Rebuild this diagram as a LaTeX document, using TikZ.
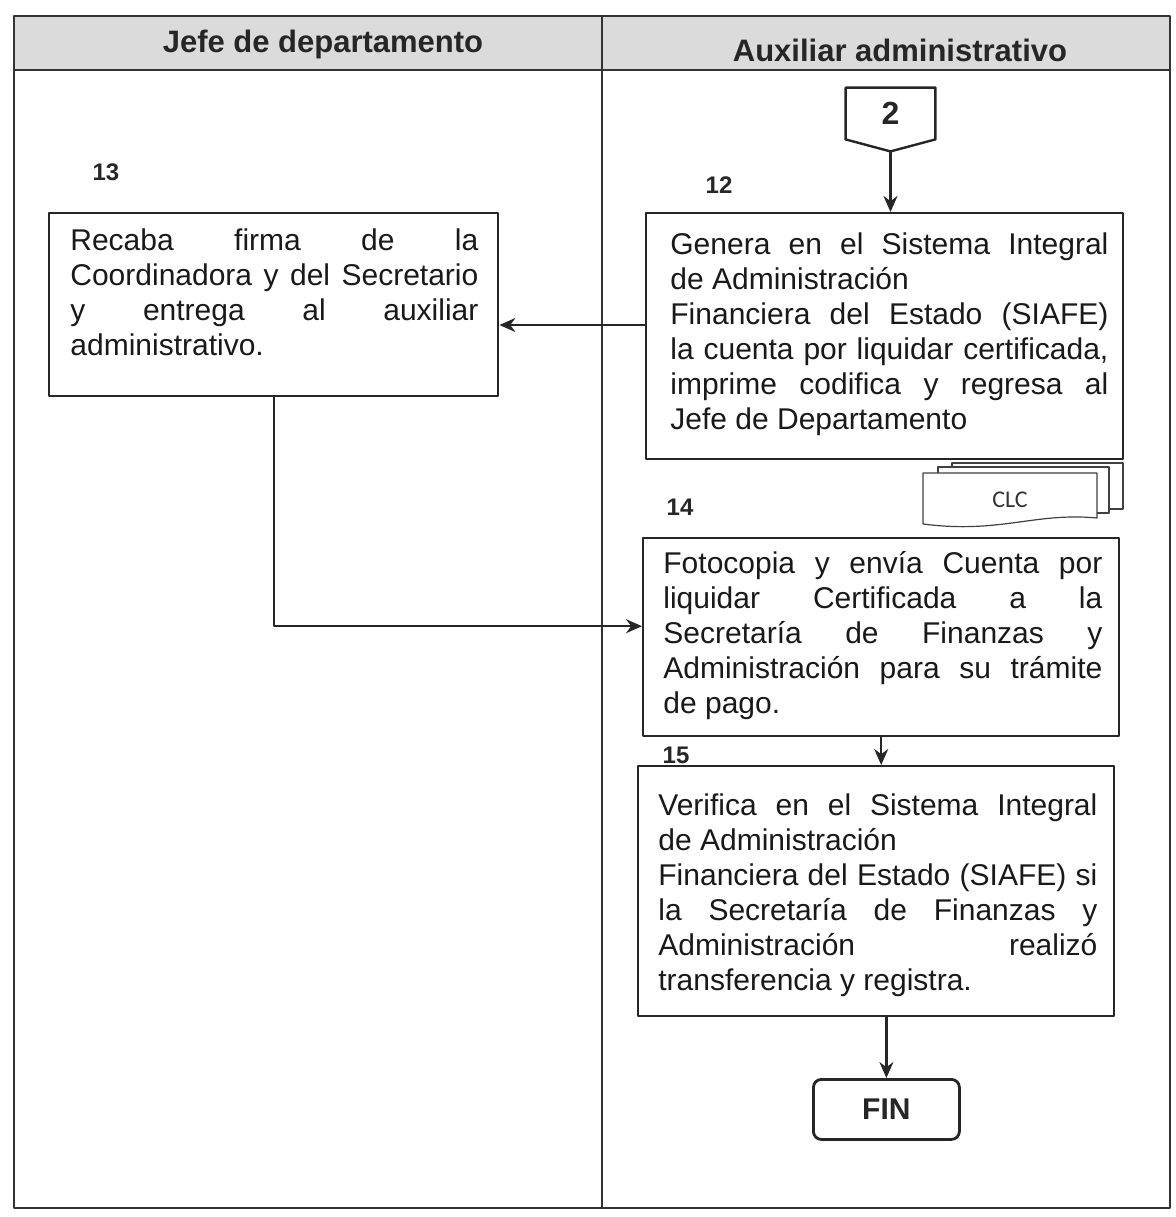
\documentclass[tikz,border=0pt]{standalone}
\usepackage{fontspec}
\setmainfont{Liberation Sans}
\newfontfamily\clcfont{Carlito}
\usetikzlibrary{arrows.meta,calc}
\tolerance=9999
\hyphenpenalty=10000
\begin{document}
\begin{tikzpicture}[x=0.5pt,y=-0.5pt,
  line join=round,
  frame/.style={draw=black!80, line width=1pt},
  stepbox/.style={draw=black!85, line width=1.2pt, fill=white, inner sep=0pt, anchor=north west},
  boxtext/.style={inner sep=0pt, anchor=north west, align=justify, text=black!90,
    font=\fontsize{15}{17.5}\selectfont},
  stepnum/.style={text=black!85, font=\fontsize{12}{14}\selectfont\bfseries},
  headtext/.style={text=black!85, font=\fontsize{15.5}{18}\selectfont\bfseries},
  flow/.style={draw=black!85, line width=1.1pt, -{Stealth[length=8pt,width=7pt]}},
  page/.style={draw=black!75, line width=0.6pt, fill=white},
]
\useasboundingbox (0,0) rectangle (1175,1217);

% swimlane table
\fill[gray!28] (14,16) rectangle (1170,70);
\draw[frame] (14,16) rectangle (1170,1208);
\draw[frame] (14,70) -- (1170,70);
\draw[frame] (602,16) -- (602,1208);
\node[headtext] (h1) at (323,44) {Jefe de departamento};
\node[headtext] (h2) at (900,50) {Auxiliar administrativo};

% off-page connector
\node[inner sep=0pt, minimum width=44.5pt, minimum height=25.5pt,
      font=\fontsize{16}{18}\selectfont\bfseries, text=black!85] (c2) at (890.5,113.5) {2};
\draw[draw=black!85, line width=1.2pt]
  (c2.north west) -- (c2.north east) -- (c2.south east)
  -- ($(c2.south)+(0,12)$) -- (c2.south west) -- cycle;
\coordinate (c2tip) at ($(c2.south)+(0,12)$);

% step numbers
\node[stepnum] (n13) at (106,172) {13};
\node[stepnum] (n12) at (719,185) {12};
\node[stepnum] (n14) at (680,507) {14};
\node[stepnum] (n15) at (676,755) {15};

% process boxes
\node[stepbox, minimum width=224.5pt, minimum height=91.5pt] (b13) at (48,212) {};
\node[stepbox, minimum width=238.5pt, minimum height=123pt] (b12) at (645,212) {};
\node[stepbox, minimum width=238pt, minimum height=99pt] (b14) at (642,537) {};
\node[stepbox, minimum width=238pt, minimum height=125pt] (b15) at (637,765) {};

\node[boxtext, text width=204pt] (t13) at ($(b13.north west)+(22,16)$)
  {Recaba firma de la\linebreak
   Coordinadora y del Secretario\linebreak
   y entrega al auxiliar\linebreak
   administrativo.};
\node[boxtext, text width=219pt] (t12) at ($(b12.north west)+(25,20)$)
  {Genera en el Sistema Integral\linebreak
   de Administración\hfill\break
   Financiera del Estado (SIAFE)\linebreak
   la cuenta por liquidar certificada,\linebreak
   imprime codifica y regresa al\linebreak
   Jefe de Departamento};
\node[boxtext, text width=219.5pt] (t14) at ($(b14.north west)+(21,14)$)
  {Fotocopia y envía Cuenta por\linebreak
   liquidar Certificada a la\linebreak
   Secretaría de Finanzas y\linebreak
   Administración para su trámite\linebreak
   de pago.};
\node[boxtext, text width=219.5pt] (t15) at ($(b15.north west)+(21,28)$)
  {Verifica en el Sistema Integral\linebreak
   de Administración\hfill\break
   Financiera del Estado (SIAFE) si\linebreak
   la Secretaría de Finanzas y\linebreak
   Administración realizó\linebreak
   transferencia y registra.};

% document stack
\draw[page] (952,463) rectangle (1123,509);
\draw[page] (938,467) rectangle (1109,513);
\draw[page] (923,473) -- (1097,473) -- (1097,518)
  .. controls (1035,512) and (1000,534) .. (923,524) -- cycle;
\node[inner sep=0pt, font=\clcfont\fontsize{12}{14}\selectfont, text=black!80] (doc) at (1010,500) {CLC};

% terminator
\node[draw=black!85, line width=1.4pt, rounded corners=4pt, anchor=north west,
      minimum width=73pt, minimum height=30pt, inner sep=0pt,
      font=\fontsize{15}{18}\selectfont\bfseries, text=black!85] (fin) at (812,1078) {FIN};

% connectors
\coordinate (lvl12) at (0,325);
\draw[flow] (c2tip) -- (c2tip |- b12.north);
\draw[flow] (b12.west |- lvl12) -- (b13.east |- lvl12);
\draw[flow] (b13.south) |- ($(b14.west)+(0,-11)$);
\draw[flow] (b14.south) -- (b14.south |- b15.north);
\draw[flow] (fin.north |- b15.south) -- (fin.north);
\end{tikzpicture}
\end{document}
